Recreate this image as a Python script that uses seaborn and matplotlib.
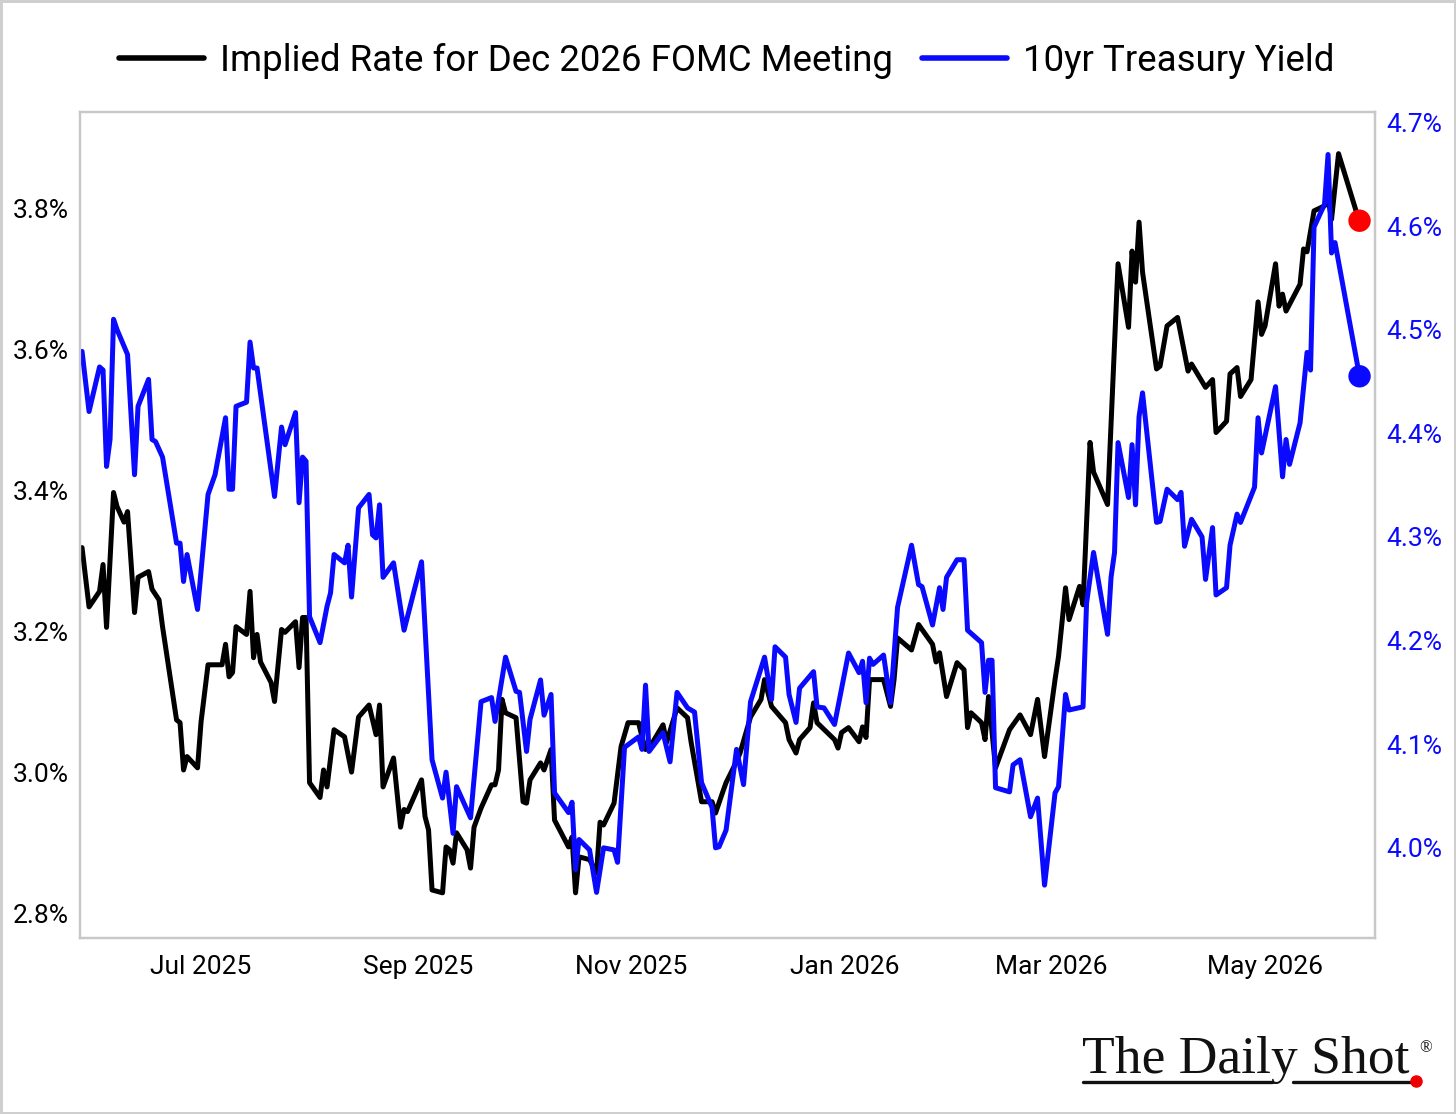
import matplotlib
matplotlib.use("Agg")
import matplotlib.pyplot as plt
import matplotlib.dates as mdates
from matplotlib.lines import Line2D
import pandas as pd
import seaborn as sns

# ---------------- data ----------------
fomc_dates = [
    "2025-05-28","2025-05-30","2025-06-02","2025-06-03","2025-06-04","2025-06-06","2025-06-07","2025-06-09",
    "2025-06-10","2025-06-12","2025-06-13","2025-06-16","2025-06-17","2025-06-19","2025-06-20","2025-06-24",
    "2025-06-25","2025-06-26","2025-06-27","2025-06-30","2025-07-01","2025-07-03","2025-07-07","2025-07-08",
    "2025-07-09","2025-07-10","2025-07-11","2025-07-14","2025-07-15","2025-07-16","2025-07-17","2025-07-18",
    "2025-07-21","2025-07-22","2025-07-24","2025-07-25","2025-07-28","2025-07-29","2025-07-30","2025-07-31",
    "2025-08-01","2025-08-04","2025-08-05","2025-08-06","2025-08-08","2025-08-11","2025-08-13","2025-08-15",
    "2025-08-18","2025-08-20","2025-08-21","2025-08-22","2025-08-25","2025-08-27","2025-08-28","2025-08-29",
    "2025-09-02","2025-09-03","2025-09-04","2025-09-05","2025-09-08","2025-09-09","2025-09-10","2025-09-11",
    "2025-09-12","2025-09-15","2025-09-16","2025-09-17","2025-09-19","2025-09-22","2025-09-23","2025-09-24",
    "2025-09-25","2025-09-26","2025-09-29","2025-10-01","2025-10-02","2025-10-03","2025-10-06","2025-10-07",
    "2025-10-09","2025-10-10","2025-10-14","2025-10-15","2025-10-16","2025-10-17","2025-10-20","2025-10-22",
    "2025-10-23","2025-10-24","2025-10-27","2025-10-29","2025-10-31","2025-11-03","2025-11-04","2025-11-05",
    "2025-11-07","2025-11-10","2025-11-11","2025-11-14","2025-11-17","2025-11-18","2025-11-21","2025-11-24",
    "2025-11-25","2025-11-27","2025-11-28","2025-12-01","2025-12-02","2025-12-05","2025-12-08","2025-12-09",
    "2025-12-11","2025-12-15","2025-12-16","2025-12-18","2025-12-19","2025-12-22","2025-12-23","2025-12-24",
    "2025-12-29","2025-12-30","2025-12-31","2026-01-02","2026-01-05","2026-01-06","2026-01-07","2026-01-08",
    "2026-01-12","2026-01-14","2026-01-15","2026-01-16","2026-01-20","2026-01-22","2026-01-26","2026-01-27",
    "2026-01-28","2026-01-30","2026-02-02","2026-02-04","2026-02-05","2026-02-06","2026-02-09","2026-02-10",
    "2026-02-11","2026-02-13","2026-02-17","2026-02-20","2026-02-23","2026-02-25","2026-02-27","2026-03-02",
    "2026-03-03","2026-03-05","2026-03-06","2026-03-09","2026-03-10","2026-03-12","2026-03-13","2026-03-17",
    "2026-03-20","2026-03-23","2026-03-24","2026-03-25","2026-03-26","2026-03-27","2026-03-31","2026-04-01",
    "2026-04-03","2026-04-06","2026-04-09","2026-04-10","2026-04-14","2026-04-16","2026-04-17","2026-04-20",
    "2026-04-21","2026-04-23","2026-04-24","2026-04-27","2026-04-29","2026-04-30","2026-05-01","2026-05-04",
    "2026-05-05","2026-05-06","2026-05-07","2026-05-11","2026-05-12","2026-05-13","2026-05-15","2026-05-18",
    "2026-05-19","2026-05-20","2026-05-22","2026-05-27","2026-05-28",
]
fomc_rate = [
    3.319,3.235,3.257,3.295,3.206,3.397,3.377,3.355,
    3.370,3.227,3.277,3.285,3.260,3.245,3.207,3.075,
    3.071,3.004,3.023,3.007,3.072,3.153,3.153,3.182,
    3.136,3.142,3.207,3.196,3.257,3.163,3.196,3.157,
    3.128,3.101,3.203,3.199,3.214,3.149,3.220,3.220,
    2.986,2.965,3.004,2.980,3.061,3.051,3.001,3.079,
    3.096,3.054,3.096,2.980,3.021,2.923,2.948,2.945,
    2.990,2.938,2.919,2.834,2.830,2.895,2.891,2.872,
    2.915,2.891,2.865,2.923,2.950,2.983,2.983,3.004,
    3.104,3.085,3.078,2.959,2.957,2.990,3.014,3.004,
    3.033,2.933,2.895,2.909,2.830,2.881,2.877,2.858,
    2.930,2.926,2.957,3.037,3.071,3.071,3.051,3.033,
    3.043,3.068,3.043,3.092,3.078,3.044,2.959,2.959,
    2.943,2.972,2.986,3.016,3.028,3.079,3.104,3.132,
    3.094,3.071,3.047,3.028,3.047,3.064,3.099,3.071,
    3.047,3.035,3.057,3.064,3.044,3.065,3.050,3.132,
    3.132,3.094,3.132,3.191,3.174,3.210,3.182,3.157,
    3.170,3.108,3.156,3.146,3.064,3.085,3.071,3.047,
    3.108,3.007,3.061,3.082,3.054,3.104,3.023,3.132,
    3.165,3.262,3.217,3.264,3.238,3.468,3.426,3.380,
    3.721,3.631,3.739,3.695,3.780,3.709,3.572,3.576,
    3.633,3.645,3.569,3.579,3.546,3.557,3.482,3.498,
    3.565,3.574,3.533,3.557,3.667,3.621,3.633,3.721,
    3.661,3.678,3.654,3.692,3.742,3.738,3.796,3.803,
    3.815,3.784,3.877,3.796,3.782,
]

tsy_dates = [
    "2025-05-28","2025-05-30","2025-06-02","2025-06-03","2025-06-04","2025-06-05","2025-06-06","2025-06-07",
    "2025-06-10","2025-06-12","2025-06-13","2025-06-16","2025-06-17","2025-06-18","2025-06-20","2025-06-24",
    "2025-06-25","2025-06-26","2025-06-27","2025-06-30","2025-07-03","2025-07-05","2025-07-08","2025-07-09",
    "2025-07-10","2025-07-11","2025-07-14","2025-07-15","2025-07-16","2025-07-17","2025-07-22","2025-07-24",
    "2025-07-25","2025-07-28","2025-07-29","2025-07-30","2025-07-31","2025-08-01","2025-08-04","2025-08-06",
    "2025-08-07","2025-08-08","2025-08-11","2025-08-12","2025-08-13","2025-08-15","2025-08-18","2025-08-19",
    "2025-08-20","2025-08-21","2025-08-22","2025-08-25","2025-08-28","2025-09-02","2025-09-05","2025-09-08",
    "2025-09-09","2025-09-11","2025-09-12","2025-09-16","2025-09-19","2025-09-22","2025-09-23","2025-09-26",
    "2025-09-29","2025-09-30","2025-10-02","2025-10-03","2025-10-06","2025-10-07","2025-10-09","2025-10-10",
    "2025-10-14","2025-10-15","2025-10-16","2025-10-17","2025-10-20","2025-10-22","2025-10-24","2025-10-27",
    "2025-10-28","2025-10-30","2025-11-03","2025-11-04","2025-11-05","2025-11-06","2025-11-10","2025-11-12",
    "2025-11-14","2025-11-17","2025-11-19","2025-11-21","2025-11-24","2025-11-25","2025-11-26","2025-11-28",
    "2025-12-01","2025-12-03","2025-12-05","2025-12-09","2025-12-11","2025-12-12","2025-12-15","2025-12-16",
    "2025-12-18","2025-12-19","2025-12-23","2025-12-24","2025-12-26","2025-12-29","2026-01-02","2026-01-05",
    "2026-01-06","2026-01-07","2026-01-08","2026-01-09","2026-01-12","2026-01-14","2026-01-16","2026-01-20",
    "2026-01-22","2026-01-23","2026-01-26","2026-01-28","2026-01-29","2026-01-30","2026-02-02","2026-02-04",
    "2026-02-05","2026-02-09","2026-02-10","2026-02-11","2026-02-12","2026-02-13","2026-02-17","2026-02-18",
    "2026-02-20","2026-02-23","2026-02-25","2026-02-27","2026-03-02","2026-03-03","2026-03-05","2026-03-06",
    "2026-03-10","2026-03-11","2026-03-13","2026-03-17","2026-03-18","2026-03-19","2026-03-20","2026-03-23",
    "2026-03-24","2026-03-25","2026-03-26","2026-03-27","2026-03-31","2026-04-01","2026-04-03","2026-04-06",
    "2026-04-07","2026-04-08","2026-04-10","2026-04-13","2026-04-14","2026-04-16","2026-04-17","2026-04-20",
    "2026-04-21","2026-04-23","2026-04-24","2026-04-28","2026-04-29","2026-04-30","2026-05-04","2026-05-06",
    "2026-05-07","2026-05-08","2026-05-11","2026-05-13","2026-05-14","2026-05-15","2026-05-18","2026-05-19",
    "2026-05-20","2026-05-21","2026-05-28",
]
tsy_yield = [
    4.479,4.421,4.464,4.461,4.368,4.394,4.510,4.500,
    4.476,4.360,4.426,4.452,4.394,4.392,4.377,4.294,
    4.294,4.257,4.283,4.230,4.341,4.360,4.415,4.346,
    4.346,4.426,4.430,4.488,4.463,4.463,4.339,4.406,
    4.389,4.420,4.333,4.377,4.373,4.223,4.198,4.233,
    4.246,4.283,4.275,4.292,4.242,4.328,4.341,4.302,
    4.299,4.331,4.261,4.275,4.210,4.276,4.085,4.048,
    4.073,4.014,4.059,4.029,4.141,4.145,4.122,4.184,
    4.151,4.150,4.093,4.124,4.162,4.128,4.148,4.053,
    4.034,4.044,3.979,4.008,3.998,3.957,4.000,3.998,
    3.986,4.097,4.107,4.095,4.157,4.093,4.111,4.083,
    4.150,4.135,4.131,4.063,4.039,4.000,4.001,4.017,
    4.095,4.061,4.141,4.184,4.143,4.194,4.184,4.148,
    4.121,4.154,4.170,4.136,4.135,4.119,4.188,4.169,
    4.180,4.140,4.183,4.177,4.186,4.140,4.232,4.292,
    4.254,4.252,4.215,4.251,4.230,4.261,4.278,4.278,
    4.210,4.198,4.150,4.181,4.181,4.058,4.054,4.080,
    4.085,4.030,4.048,3.964,4.053,4.059,4.148,4.133,
    4.136,4.236,4.285,4.206,4.261,4.285,4.391,4.338,
    4.389,4.331,4.416,4.439,4.314,4.315,4.346,4.336,
    4.343,4.291,4.317,4.300,4.259,4.309,4.244,4.251,
    4.292,4.322,4.314,4.348,4.415,4.381,4.445,4.358,
    4.394,4.370,4.410,4.478,4.461,4.599,4.621,4.669,
    4.574,4.584,4.455,
]

left_ticks = [2.8, 3.0, 3.2, 3.4, 3.6, 3.8]
right_ticks = [4.0, 4.1, 4.2, 4.3, 4.4, 4.5, 4.6, 4.7]
label_fomc = "Implied Rate for Dec 2026 FOMC Meeting"
label_tsy = "10yr Treasury Yield"

# ---------------- frames ----------------
df_fomc = pd.DataFrame({"date": pd.to_datetime(fomc_dates), "value": fomc_rate})
df_tsy = pd.DataFrame({"date": pd.to_datetime(tsy_dates), "value": tsy_yield})

sns.set_theme(style="white")
plt.rcParams["font.family"] = ["Roboto", "DejaVu Sans"]
plt.rcParams["text.color"] = "black"

BLUE = "#0a0aff"
GRID = "#c8c8c8"

fig = plt.figure(figsize=(14.56, 11.14), dpi=100)
fig.patch.set_facecolor("white")
fig.patch.set_edgecolor("#cfcfcf")
fig.patch.set_linewidth(2.5)

ax = fig.add_axes([80/1456, 1 - 938/1114, (1375-80)/1456, (938-112)/1114])
ax2 = ax.twinx()

sns.lineplot(data=df_fomc, x="date", y="value", ax=ax, color="black", lw=3.6, legend=False)
sns.lineplot(data=df_tsy, x="date", y="value", ax=ax2, color=BLUE, lw=3.6, legend=False)

# end markers
last_f = df_fomc.iloc[[-1]]
last_t = df_tsy.iloc[[-1]]
sns.scatterplot(data=last_f, x="date", y="value", ax=ax, color="#ff0000", s=260, edgecolor="none", zorder=5, legend=False)
sns.scatterplot(data=last_t, x="date", y="value", ax=ax2, color=BLUE, s=260, edgecolor="none", zorder=5, legend=False)

ax.set_xlim(pd.Timestamp("2025-05-27 10:00"), pd.Timestamp("2026-06-01 10:00"))
ax.set_ylim(2.766, 3.936)
ax2.set_ylim(3.913, 4.710)

ax.set_yticks(left_ticks)
ax.set_yticklabels([f"{v:.1f}%" for v in left_ticks])
ax2.set_yticks(right_ticks)
ax2.set_yticklabels([f"{v:.1f}%" for v in right_ticks])

ax.xaxis.set_major_locator(mdates.MonthLocator(bymonth=[1, 3, 5, 7, 9, 11]))
ax.xaxis.set_major_formatter(mdates.DateFormatter("%b %Y"))

for a in (ax, ax2):
    a.set_xlabel("")
    a.set_ylabel("")
    a.grid(False)
    for s in a.spines.values():
        s.set_color(GRID)
        s.set_linewidth(1.6)
        s.set_visible(True)

ax.tick_params(axis="both", length=0, labelsize=19, colors="black")
ax.tick_params(axis="x", pad=12)
ax.tick_params(axis="y", pad=8)
ax2.tick_params(axis="y", length=0, labelsize=19, colors=BLUE, pad=8)

# legend
handles = [Line2D([0], [0], color="black", lw=4.0), Line2D([0], [0], color=BLUE, lw=4.0)]
fig.legend(handles, [label_fomc, label_tsy], loc="center", bbox_to_anchor=(727/1456, 1 - 61/1114),
           ncol=2, frameon=False, fontsize=26.4, handlelength=2.3, handletextpad=0.45,
           columnspacing=0.8, labelcolor="black")

# logo
fig.text(1082/1456, 1 - 1073/1114, "The Daily Shot", fontsize=38.5, family="Liberation Serif",
         ha="left", va="baseline", color="#111111")
fig.text(1419/1456, 1 - 1052/1114, "®", fontsize=12, family="Liberation Serif",
         ha="left", va="baseline", color="#111111")
fig.add_artist(Line2D([1083/1456, 1272/1456], [1 - 1082/1114, 1 - 1082/1114], color="#111111", lw=2.4))
fig.add_artist(Line2D([1293/1456, 1412/1456], [1 - 1082/1114, 1 - 1082/1114], color="#111111", lw=2.4))
fig.add_artist(Line2D([1416/1456], [1 - 1081/1114], marker="o", color="#ee0000", markersize=8, lw=0))

fig.savefig("out.png", dpi=100, facecolor=fig.get_facecolor(), edgecolor=fig.get_edgecolor())
